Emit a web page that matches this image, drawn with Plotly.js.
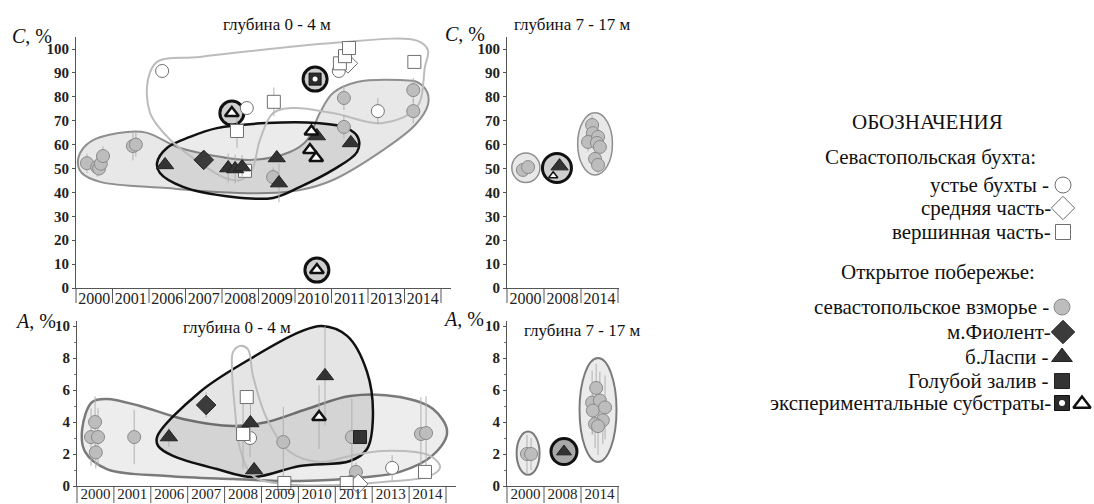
<!DOCTYPE html>
<html><head><meta charset="utf-8">
<script src="https://cdn.plot.ly/plotly-3.0.1.min.js"></script>
<style>html,body{margin:0;padding:0;background:#fff}#chart{width:1094px;height:504px}</style>
</head><body><div id="chart"></div>
<script>
// ---------- categories ----------
const years0_4 = ['2000','2001','2006','2007','2008','2009','2010','2011','2013','2014'];
const years7_17 = ['2000','2008','2014'];

// ---------- C, %  depth 0-4 m (x = category index + position inside the category) ----------
const C04_grayX = [0.30, 0.58, 0.63, 0.68, 0.74, 1.56, 1.64, 5.40, 7.34, 7.34, 9.24, 9.24];
const C04_grayY = [52.2, 50.6, 50.0, 52.0, 55.2, 59.4, 60.0, 46.4, 79.5, 67.4, 82.8, 74.0];
const C04_grayE = [4, 4, 3, 4, 4, 6, 5, 4, 5, 5, 5, 5];
const C04_mouthX = [2.36, 4.68, 7.20, 8.27];
const C04_mouthY = [90.8, 75.3, 90.8, 74.0];
const C04_mouthE = [0, 0, 0, 5.5];
const C04_midX = [7.45];
const C04_midY = [94.0];
const C04_topX = [4.41, 4.63, 5.42, 7.23, 7.37, 7.48, 9.27];
const C04_topY = [65.7, 49.0, 77.9, 94.0, 97.0, 100.4, 94.6];
const C04_topE = [7, 0, 6, 0, 0, 0, 0];
const C04_fiolX = [3.50];
const C04_fiolY = [53.6];
const C04_fiolE = [4];
const C04_laspiX = [2.44, 4.17, 4.36, 4.55, 5.50, 5.56, 6.60, 7.53];
const C04_laspiY = [51.5, 50.2, 49.8, 50.6, 54.4, 43.9, 63.6, 60.7];
const C04_laspiE = [0, 6, 6, 5, 0, 8, 0, 0];
const C04_expSqX = [6.55];
const C04_expSqY = [87.4];
const C04_expTrX = [4.27, 6.45, 6.41, 6.58, 6.60];
const C04_expTrY = [73.2, 65.5, 57.7, 54.4, 7.5];
const C04_ringX = [4.27, 6.55, 6.60];
const C04_ringY = [73.2, 87.4, 7.5];

// ---------- C, %  depth 7-17 m ----------
const C717_grayX = [0.43, 0.57, 2.30, 2.32, 2.19, 2.46, 2.43, 2.51, 2.38, 2.46];
const C717_grayY = [49.4, 50.6, 68.2, 64.8, 61.1, 63.2, 60.7, 59.0, 54.0, 51.5];
const C717_grayE = [0, 0, 4, 4, 4, 4, 4, 4, 4, 4];
const C717_laspiX = [1.42];
const C717_laspiY = [51.0];
const C717_expTrX = [1.25];
const C717_expTrY = [47.0];
const C717_ringX = [1.35];
const C717_ringY = [50.2];

// ---------- A, %  depth 0-4 m ----------
const A04_grayX = [0.38, 0.49, 0.51, 0.57, 1.55, 5.59, 7.45, 7.56, 9.32, 9.46];
const A04_grayY = [3.06, 4.00, 2.10, 3.06, 3.06, 2.75, 3.06, 0.88, 3.25, 3.31];
const A04_grayE = [1.8, 1.6, 1.0, 1.8, 1.7, 2.2, 2.4, 0.6, 2.3, 2.3];
const A04_mouthX = [4.69, 7.42, 8.54];
const A04_mouthY = [3.00, 0.25, 1.13];
const A04_mouthE = [1.2, 0, 0.8];
const A04_midX = [7.62];
const A04_midY = [0.13];
const A04_topX = [4.60, 4.50, 5.62, 7.31, 9.43];
const A04_topY = [5.56, 3.25, 0.19, 0.19, 0.88];
const A04_topE = [0, 2.2, 0, 0, 0];
const A04_fiolX = [3.50];
const A04_fiolY = [5.06];
const A04_fiolE = [0.8];
const A04_laspiX = [2.49, 4.70, 4.80, 6.72];
const A04_laspiY = [3.06, 3.94, 1.00, 6.88];
const A04_laspiE = [0.6, 1.2, 0.5, 3.1];
const A04_blueX = [7.67];
const A04_blueY = [3.06];
const A04_expTrX = [6.56];
const A04_expTrY = [4.31];
const A04_expTrE = [2.0];

// ---------- A, %  depth 7-17 m ----------
const A717_grayX = [0.54, 0.65, 2.41, 2.30, 2.51, 2.32, 2.65, 2.59, 2.38, 2.46];
const A717_grayY = [2.00, 2.00, 6.13, 5.21, 5.34, 4.72, 4.91, 4.11, 3.87, 3.74];
const A717_grayE = [1.2, 1.0, 1.5, 2.0, 1.8, 1.5, 2.0, 1.5, 1.5, 1.8];
const A717_laspiX = [1.54];
const A717_laspiY = [2.15];

// ---------- group outlines (data coordinates) ----------
const TL_lightBlobX = [1.97, 2.22, 3.40, 7.04, 9.34, 9.64, 9.56, 9.34, 8.41, 7.04, 5.95, 5.40, 5.04, 4.82, 4.50, 4.08, 3.40, 2.58, 2.03];
const TL_lightBlobY = [87.0, 94.6, 96.7, 102.5, 103.5, 99.6, 92.5, 75.7, 69.0, 73.2, 75.3, 73.2, 62.0, 49.4, 45.2, 46.0, 52.3, 62.0, 73.2];
const TL_grayBlobX = [0.05, 0.16, 0.47, 1.40, 1.95, 2.77, 3.40, 4.77, 5.86, 6.33, 6.68, 7.04, 7.70, 8.88, 9.34, 9.62, 9.64, 9.29, 8.41, 7.04, 6.14, 5.23, 3.86, 2.49, 0.66, 0.16];
const TL_grayBlobY = [52.3, 57.7, 61.9, 65.3, 64.9, 59.0, 56.5, 53.6, 56.9, 61.9, 73.2, 81.6, 86.2, 87.0, 86.2, 82.0, 76.6, 68.2, 57.7, 45.2, 41.0, 39.7, 40.2, 41.8, 44.4, 48.1];
const TL_blackBlobX = [2.22, 2.49, 3.12, 3.86, 5.23, 6.60, 7.42, 7.73, 7.70, 7.04, 6.14, 5.40, 4.30, 2.93, 2.30];
const TL_blackBlobY = [52.3, 58.6, 63.2, 66.9, 69.0, 69.0, 66.9, 62.8, 56.9, 49.4, 42.3, 37.7, 38.1, 42.3, 48.1];
const BL_grayBlobX = [0.14, 0.41, 0.81, 1.71, 2.87, 4.23, 5.15, 6.23, 7.40, 8.75, 9.65, 10.03, 9.62, 8.75, 7.86, 6.04, 4.23, 2.44, 0.81, 0.22];
const BL_grayBlobY = [3.56, 5.25, 5.44, 5.00, 4.19, 3.75, 4.00, 4.81, 5.63, 5.56, 4.81, 3.38, 1.88, 0.88, 0.56, 0.31, 0.44, 0.63, 1.06, 2.13];
const BL_blackBlobX = [2.17, 3.33, 4.69, 6.04, 6.64, 7.32, 7.86, 8.02, 7.86, 7.40, 6.04, 4.77, 3.79, 2.60, 2.20];
const BL_blackBlobY = [3.06, 5.88, 7.94, 9.63, 10.0, 9.38, 7.13, 4.38, 2.31, 1.56, 1.25, 0.56, 1.06, 1.88, 2.50];
const BL_lightBlobX = [4.23, 4.42, 4.63, 4.77, 5.15, 5.77, 6.59, 7.40, 8.29, 9.57, 9.84, 9.57, 8.29, 6.94, 5.58, 4.77, 4.42, 4.28, 4.20];
const BL_lightBlobY = [8.38, 8.75, 8.56, 6.88, 4.19, 2.13, 1.50, 1.88, 2.19, 1.88, 1.19, 0.63, 0.25, 0.05, 0.13, 0.63, 2.31, 4.81, 7.31];
// ellipses for 7-17 m panels: [cx, cy, rx, ry]
const TR_ellipses = [[0.51, 50.3, 0.38, 6.2], [2.38, 60.3, 0.47, 13.0]];
const BR_ellipses = [[0.57, 2.05, 0.31, 1.35], [2.46, 4.75, 0.50, 3.25]];

// ---------- legend texts ----------
const legendTitle = 'ОБОЗНАЧЕНИЯ';
const legendRows = [
  ['Севастопольская бухта:', 157, 1038],
  ['устье бухты -', 185, 1051],
  ['средняя часть-', 208, 1053],
  ['вершинная часть-', 232, 1053],
  ['Открытое побережье:', 272, 1037],
  ['севастопольское взморье -', 307, 1051],
  ['м.Фиолент-', 332, 1053],
  ['б.Ласпи -', 357, 1051],
  ['Голубой залив -', 381, 1051],
  ['экспериментальные субстраты-', 403, 1053]
];

// ---------- styles ----------
const W = 1094, H = 504;
const SERIF = 'Liberation Serif, Times New Roman, serif';
const ST = {
  gray:   {symbol:'circle', size:13, color:'#bdbdbd', line:{color:'#8a8a8a', width:1}},
  mouth:  {symbol:'circle', size:13, color:'#ffffff', line:{color:'#6f6f6f', width:1}},
  mid:    {symbol:'diamond', size:15, color:'#ffffff', line:{color:'#6f6f6f', width:1}},
  top:    {symbol:'square', size:13, color:'#ffffff', line:{color:'#6f6f6f', width:1}},
  fiol:   {symbol:'diamond', size:15, color:'#3b3b3b', line:{color:'#222', width:1}},
  laspi:  {symbol:'triangle-up', size:15, color:'#333333', line:{color:'#222', width:1}},
  blue:   {symbol:'square', size:13, color:'#333333', line:{color:'#222', width:1}},
  expSq:  {symbol:'square', size:12, color:'#2b2b2b', line:{color:'#111', width:1}},
  expDot: {symbol:'circle', size:5, color:'#ffffff', line:{width:0}},
  expTr:  {symbol:'triangle-up', size:12, color:'#ffffff', line:{color:'#111', width:2.5}},
  ring:   {symbol:'circle', size:24, color:'#cfcfcf', line:{color:'#111', width:3}}
};

const traces = [];
function pts(x, y, st, ax, err, extra) {
  const t = {type:'scatter', mode:'markers', x:x, y:y, xaxis:ax[0], yaxis:ax[1],
    marker: Object.assign({}, st, extra || {}), cliponaxis:false, hoverinfo:'skip', showlegend:false};
  if (err) t.error_y = {type:'data', array:err, visible:true, color:'#b0b0b0', thickness:1, width:0};
  traces.push(t);
}
function blob(x, y, ax, lineColor, lineWidth, fill) {
  traces.push({type:'scatter', mode:'lines', x:x.concat([x[0]]), y:y.concat([y[0]]),
    xaxis:ax[0], yaxis:ax[1], line:{color:lineColor, width:lineWidth, shape:'spline', smoothing:1},
    fill: fill ? 'toself' : 'none', fillcolor: fill || 'rgba(0,0,0,0)', hoverinfo:'skip', showlegend:false});
}

const TL = ['x','y'], TR = ['x2','y2'], BL = ['x3','y3'], BR = ['x4','y4'];

// top-left
blob(TL_grayBlobX, TL_grayBlobY, TL, '#8f8f8f', 2, 'rgba(0,0,0,0.09)');
blob(TL_blackBlobX, TL_blackBlobY, TL, '#111111', 2.5, 'rgba(0,0,0,0.08)');
blob(TL_lightBlobX, TL_lightBlobY, TL, '#bcbcbc', 2, null);
pts(C04_ringX, C04_ringY, ST.ring, TL);
pts(C04_grayX, C04_grayY, ST.gray, TL, C04_grayE);
pts(C04_mouthX, C04_mouthY, ST.mouth, TL, C04_mouthE);
pts(C04_midX, C04_midY, ST.mid, TL);
pts(C04_topX, C04_topY, ST.top, TL, C04_topE);
pts(C04_fiolX, C04_fiolY, ST.fiol, TL, C04_fiolE);
pts(C04_laspiX, C04_laspiY, ST.laspi, TL, C04_laspiE);
pts(C04_expSqX, C04_expSqY, ST.expSq, TL);
pts(C04_expSqX, C04_expSqY, ST.expDot, TL);
pts(C04_expTrX, C04_expTrY, ST.expTr, TL);

// top-right
pts(C717_ringX, C717_ringY, ST.ring, TR, null, {size:29});
pts(C717_grayX, C717_grayY, ST.gray, TR, C717_grayE);
pts(C717_laspiX, C717_laspiY, ST.laspi, TR);
pts(C717_expTrX, C717_expTrY, ST.expTr, TR, null, {size:8, line:{color:'#111', width:1.5}});

// bottom-left
blob(BL_grayBlobX, BL_grayBlobY, BL, '#7a7a7a', 2.5, 'rgba(0,0,0,0.07)');
blob(BL_blackBlobX, BL_blackBlobY, BL, '#111111', 2.5, 'rgba(0,0,0,0.1)');
blob(BL_lightBlobX, BL_lightBlobY, BL, '#bcbcbc', 2, null);
pts(A04_grayX, A04_grayY, ST.gray, BL, A04_grayE);
pts(A04_mouthX, A04_mouthY, ST.mouth, BL, A04_mouthE);
pts(A04_midX, A04_midY, ST.mid, BL);
pts(A04_topX, A04_topY, ST.top, BL, A04_topE);
pts(A04_fiolX, A04_fiolY, ST.fiol, BL, A04_fiolE);
pts(A04_laspiX, A04_laspiY, ST.laspi, BL, A04_laspiE);
pts(A04_blueX, A04_blueY, ST.blue, BL);
pts(A04_expTrX, A04_expTrY, ST.expTr, BL, A04_expTrE);

// bottom-right
pts(A717_laspiX, A717_laspiY, ST.ring, BR, null, {size:26, color:'#a8a8a8'});
pts(A717_grayX, A717_grayY, ST.gray, BR, A717_grayE);
pts(A717_laspiX, A717_laspiY, ST.laspi, BR, null, {size:13});

// legend keys (overlay pixel axes)
const LG = ['x5','y5'];
pts([1063], [185], ST.mouth, LG, null, {size:16});
pts([1063], [208], ST.mid, LG, null, {size:18});
pts([1063], [232], ST.top, LG, null, {size:15});
pts([1062], [307], ST.gray, LG, null, {size:16});
pts([1063], [332], ST.fiol, LG, null, {size:18});
pts([1062], [357], ST.laspi, LG, null, {size:18});
pts([1062], [381], ST.blue, LG, null, {size:15});
pts([1062], [403], ST.expSq, LG, null, {size:15});
pts([1062], [403], ST.expDot, LG, null, {size:6});
pts([1082], [404], ST.expTr, LG, null, {size:15});

// ---------- axes ----------
function xd(a, b) { return [a / W, b / W]; }
function yd(top, bottom) { return [1 - bottom / H, 1 - top / H]; }
const tickFontY = {family: SERIF, size: 15, color: '#222', weight: 'bold'};
function xAxis(dom, cats, range, anchor, fs, standoff) {
  return {domain: dom, range: [0, range], anchor: anchor, showgrid:false, zeroline:false,
    showline:true, linecolor:'#555', linewidth:1,
    tickmode:'array', tickvals: cats.map((c, i) => i + 0.5), ticktext: cats, ticks:'',
    ticklabelstandoff: standoff, tickfont: {family: SERIF, size: fs, color: '#222'}};
}
function yAxisC(dom, anchor) {
  return {domain: dom, range: [0, 105], anchor: anchor, showgrid:false, zeroline:false,
    showline:true, linecolor:'#555', linewidth:1, tickmode:'linear', tick0:0, dtick:10,
    ticks:'outside', ticklen:3, tickcolor:'#555', tickfont: tickFontY};
}
function yAxisA(dom, anchor) {
  return {domain: dom, range: [0, 10.3], anchor: anchor, showgrid:false, zeroline:false,
    showline:true, linecolor:'#555', linewidth:1, tickmode:'linear', tick0:0, dtick:2,
    ticks:'outside', ticklen:3, tickcolor:'#555', tickfont: tickFontY,
    minor: {dtick:1, ticks:'outside', ticklen:2, tickcolor:'#777'}};
}

const xTL = xAxis(xd(76, 76 + 36.5 * 10.27), years0_4, 10.27, 'y', 16, -4);
const xTR = xAxis(xd(507, 507 + 37 * 3.03), years7_17, 3.03, 'y2', 16, -4);
const xBL = xAxis(xd(77, 77 + 36.9 * 10.27), years0_4, 10.27, 'y3', 15, -6);
const xBR = xAxis(xd(507, 507 + 37 * 3.03), years7_17, 3.03, 'y4', 15, -6);
const yTop = yd(288 - 105 * 2.39, 288);
const yBot = yd(486 - 10.3 * 16, 486);

const shapes = [];
// category separators below each x axis (from the axis line downwards)
function separators(xa, ydom, n, len) {
  const y0 = ydom[0], y1 = ydom[0] - len / H;
  for (let i = 0; i <= n; i++) {
    const xp = xa.domain[0] + (i / xa.range[1]) * (xa.domain[1] - xa.domain[0]);
    shapes.push({type:'line', xref:'paper', yref:'paper', x0:xp, x1:xp, y0:y0, y1:y1, line:{color:'#555', width:1}});
  }
}
separators(xTL, yTop, years0_4.length, 15);
separators(xTR, yTop, years7_17.length, 15);
separators(xBL, yBot, years0_4.length, 17);
separators(xBR, yBot, years7_17.length, 17);

TR_ellipses.forEach(e => shapes.push({type:'circle', xref:'x2', yref:'y2', x0:e[0]-e[2], x1:e[0]+e[2], y0:e[1]-e[3], y1:e[1]+e[3],
  line:{color:'#8f8f8f', width:1.5}, fillcolor:'rgba(0,0,0,0.09)', layer:'below'}));
BR_ellipses.forEach(e => shapes.push({type:'circle', xref:'x4', yref:'y4', x0:e[0]-e[2], x1:e[0]+e[2], y0:e[1]-e[3], y1:e[1]+e[3],
  line:{color:'#7a7a7a', width:2}, fillcolor:'rgba(0,0,0,0.08)', layer:'below'}));

// ---------- annotations ----------
function ann(text, x, y, size, anchor, extra) {
  return Object.assign({text: text, xref:'paper', yref:'paper', x: x / W, y: 1 - y / H, showarrow:false,
    xanchor: anchor || 'center', yanchor:'middle', font:{family: SERIF, size: size, color:'#111'}}, extra || {});
}
const annotations = [
  ann('глубина 0 - 4 м', 277, 24, 17),
  ann('глубина 7 - 17 м', 572, 24, 17),
  ann('глубина 0 - 4 м', 237, 327, 17),
  ann('глубина 7 - 17 м', 582, 330, 17),
  ann('<i>C</i>, %', 32, 36, 20),
  ann('<i>C</i>, %', 465, 34, 20),
  ann('<i>A</i>, %', 35, 321, 20),
  ann('<i>A</i>, %', 463, 319, 20),
  ann(legendTitle, 927, 122, 21)
];
legendRows.forEach(r => annotations.push(ann(r[0], r[2], r[1], 21, 'right')));

const layout = {
  width: W, height: H, margin:{l:0, r:0, t:0, b:0},
  paper_bgcolor:'#ffffff', plot_bgcolor:'rgba(0,0,0,0)', showlegend:false,
  font:{family: SERIF, color:'#222'},
  xaxis: xTL, yaxis: yAxisC(yTop, 'x'),
  xaxis2: xTR, yaxis2: yAxisC(yTop, 'x2'),
  xaxis3: xBL, yaxis3: yAxisA(yBot, 'x3'),
  xaxis4: xBR, yaxis4: yAxisA(yBot, 'x4'),
  xaxis5: {domain:[0,1], range:[0, W], visible:false, anchor:'y5', fixedrange:true},
  yaxis5: {domain:[0,1], range:[H, 0], visible:false, anchor:'x5', fixedrange:true},
  shapes: shapes, annotations: annotations
};

Plotly.newPlot('chart', traces, layout, {staticPlot:true, displayModeBar:false});
</script></body></html>
